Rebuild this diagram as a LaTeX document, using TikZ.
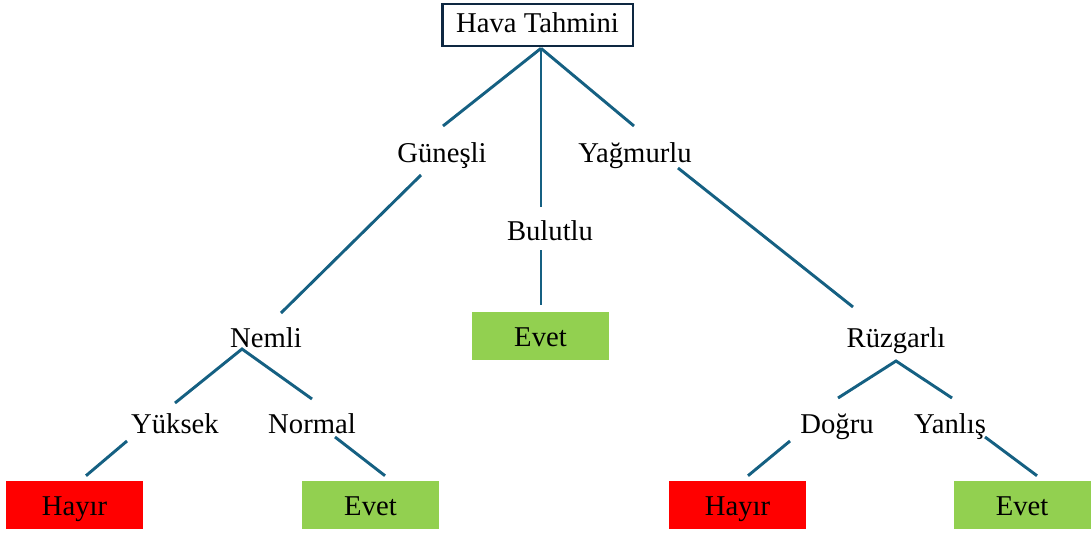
\documentclass[tikz,border=0pt]{standalone}
\usepackage{fontspec}
\setmainfont{Liberation Serif}
\usetikzlibrary{calc}
\definecolor{linkblue}{HTML}{156082}
\definecolor{rootblue}{HTML}{0E2841}
\definecolor{yesgreen}{HTML}{92D050}
\definecolor{nored}{HTML}{FF0000}

\begin{document}
\begin{tikzpicture}[x=0.75pt, y=-0.75pt,
        every node/.style={font=\fontsize{21.5}{26}\selectfont},
        branch/.style={anchor=base, inner sep=0pt},
        root/.style={draw=rootblue, line width=2pt, minimum width=143pt, minimum height=31.5pt, text height=16.1pt, text depth=4.3pt},
        leaf/.style={minimum width=102.75pt, minimum height=36pt, text height=16.3pt, text depth=0pt},
        leafyes/.style={leaf, fill=yesgreen},
        leafno/.style={leaf, fill=nored},
        link/.style={draw=linkblue, line width=2.2pt}
    ]
        \useasboundingbox (0,0) rectangle (1091,533);

        \node [root] (root) at (537.5,25) {Hava Tahmini};
        \node [branch] (gunesli) at (442,162) {Güneşli};
        \node [branch] (yagmurlu) at (635,162) {Yağmurlu};
        \node [branch] (bulutlu) at (550,240) {Bulutlu};
        \node [leafyes] (evetb) at (540.5,336) {Evet};
        \node [branch] (nemli) at (266,347) {Nemli};
        \node [branch] (ruzgarli) at (896,347) {Rüzgarlı};
        \node [branch] (yuksek) at (175,433) {Yüksek};
        \node [branch] (normal) at (312,433) {Normal};
        \node [branch] (dogru) at (837,433) {Doğru};
        \node [branch] (yanlis) at (950,433) {Yanlış};
        \node [leafno] (hayiry) at (74.5,505) {Hayır};
        \node [leafyes] (evetn) at (370.5,505) {Evet};
        \node [leafno] (hayird) at (737.5,505) {Hayır};
        \node [leafyes] (evety) at (1022,505) {Evet};

        \draw [link] ($(root.south)+(3.5,1)$) -- ($(gunesli.base)+(1,-36)$);
        \draw [link] ($(root.south)+(3.5,1)$) -- ($(yagmurlu.base)+(-1,-36)$);
        \draw [link] ($(root.south)+(3.5,1)$) -- ($(bulutlu.base)+(-9,-33)$);
        \draw [link] ($(bulutlu.base)+(-9,10)$) -- ($(evetb.north)+(0.5,-7)$);
        \draw [link] ($(gunesli.base)+(-21,13)$) -- ($(nemli.base)+(15,-34)$);
        \draw [link] ($(yagmurlu.base)+(43,6)$) -- ($(ruzgarli.base)+(-43,-40)$);
        \draw [link] ($(yuksek.base)+(0,-30)$) -- ($(nemli.base)+(-24,2)$) -- ($(normal.base)+(0,-34)$);
        \draw [link] ($(yuksek.base)+(-48,8)$) -- ($(hayiry.north)+(11.5,-5)$);
        \draw [link] ($(normal.base)+(23,4)$) -- ($(evetn.north)+(14.5,-5)$);
        \draw [link] ($(dogru.base)+(1,-35)$) -- ($(ruzgarli.base)+(0,14)$) -- ($(yanlis.base)+(2,-35)$);
        \draw [link] ($(dogru.base)+(-47,8)$) -- ($(hayird.north)+(10.5,-5)$);
        \draw [link] ($(yanlis.base)+(35,4)$) -- ($(evety.north)+(15,-5)$);

    \end{tikzpicture}
\end{document}
